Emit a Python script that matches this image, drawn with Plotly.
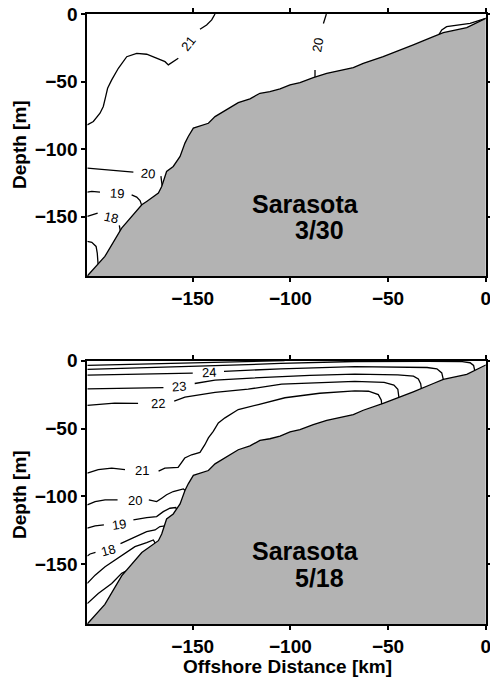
import plotly.graph_objects as go

# ---------------- shared section geometry ----------------
X_RANGE = [-204, 0]
Z_RANGE = [-194, 0]
TICKS = [-150, -100, -50, 0]
Y_TICKS = [-150, -100, -50, 0]

# bottom profile along the transect (km offshore, depth m)
bathy_x = [-204, -195, -186.4, -176.1, -173.6, -170.2, -167.6, -165.9, -163.4, -160,
           -156.5, -154, -152.3, -149.7, -146.3, -142, -138.6, -135.2, -130.9, -126.7,
           -120.7, -115.6, -110.5, -105.3, -100.2, -95.1, -88.3, -81.4, -67.8, -62.7,
           -52.5, -47.3, -37.1, -26.8, -21.7, -9.7, 0]
bathy_z = [-194, -179.5, -158.5, -141.3, -138.8, -135.1, -132.6, -127.7, -116.6, -112.9,
           -105.5, -95.6, -90.7, -84.5, -82.8, -80.9, -76, -73, -69.8, -65.6,
           -62.8, -58.7, -57.5, -55.5, -52.5, -50.8, -47.1, -43.9, -39.7, -36.5,
           -31.5, -28.4, -22.9, -16.8, -13.8, -10.1, -3.2]

# ---------------- 3/30 isotherms (None = gap for label) ----------------
mar_21_x = [-204, -200.9, -197.5, -195.8, -194.6, -193.6, -191.5, -188.1, -183.8, -178.7,
            -173.6, -168.5, -164.2, -162.5, -157.4, None, -146.3, -142.9, -140.3, -138.6]
mar_21_z = [-82.1, -79.6, -73.5, -68.5, -61.2, -55, -48.8, -40.2, -31.6, -29.1,
            -29.8, -32.8, -35.3, -37.7, -32.8, None, -11.3, -8.1, -4.4, 0]
mar_21s_x = [-24.5, -22.5, -20, -14.9, -8, 0]
mar_21s_z = [-16.5, -11.8, -9.4, -8.1, -6.9, -3.2]
mar_20a_x = [-83.1, -81.6, None, -87.4, -87.4]
mar_20a_z = [-7, 0, None, -41.4, -49]
mar_20b_x = [-204, -198.4, -191.5, -184.7, -180.4, None, -166.3, -166.0, -165.5]
mar_20b_z = [-114.1, -114.9, -115.9, -116.6, -117.1, None, -120, -123.5, -129]
mar_19_x = [-204, -201.7, -197.5, None, -181.3, -178.7, -177, -176.1, -175.8]
mar_19_z = [-131.9, -131.4, -131.9, None, -133.9, -135.6, -138.1, -141.3, -143]
mar_18_x = [-204, -201.7, -198.7, None, -187.6, -187]
mar_18_z = [-149.9, -148.7, -147.4, None, -156.5, -161.5]
mar_17_x = [-204, -201.7, -199.5, -198.9, -198.4]
mar_17_z = [-168.4, -169.1, -172.1, -177, -187]

mar_lab_text = ["21", "20", "20", "19", "18"]
mar_lab_x = [-152.3, -85.7, -173.1, -188.6, -191.9]
mar_lab_z = [-21.7, -22.9, -117.9, -133.1, -150.4]
mar_lab_ang = [-52, -80, 5, 3, 12]

# ---------------- 5/18 isotherms ----------------
may_26_x = [-204, -185, -165, -145, -125, -103]
may_26_z = [-3.5, -2.8, -2.0, -1.2, -0.6, 0]
may_25_x = [-204, -180, -160, -138.6, -105, -67, -30, -12, -8, -6.2, -5.5]
may_25_z = [-6.4, -5.6, -4.7, -3.7, -2.0, -0.6, -0.5, -0.7, -1.5, -3.5, -8]
may_24_x = [-204, -185, -165, -150, None, -134, -120, -105, -67, -40, -30, -25, -22.5, -21.5]
may_24_z = [-10.6, -10.2, -9.7, -9.2, None, -7.8, -6.9, -6.0, -4.4, -4.8, -5.0, -6.0, -9.0, -15]
may_23_x = [-204, -190, -175, -165, None, -149, -138.6, -120, -110, -90, -67, -45, -37, -34.5, -33.3, -32.8]
may_23_z = [-20.7, -20.4, -20.0, -19.8, None, -16.8, -14.3, -12.8, -12.0, -10.8, -9.9, -10.4, -11.4, -13.5, -17, -22]
may_22_x = [-204, -190, -178, None, -159.5, -157.4, -154, -138.6, -121.6, -104.5, -85, -67, -52, -47, -45, -44.3]
may_22_z = [-32.9, -31.2, -31.5, None, -29.8, -28.6, -26.9, -23.4, -21.0, -17.3, -16.2, -15.3, -16.0, -18.0, -21.0, -28.5]
may_21_x = [-204, -198.4, -191.5, -184.7, None, -167.5, -164.3, -157.5, -155.7, -154.1, -150.6,
            -146.3, -143.8, -142, -139.5, -136.9, -133.5, -126.7, -116.4, -102.8, -85,
            -67, -60, -55, -53.5, -53]
may_21_z = [-82.8, -80.3, -79.1, -80.3, None, -81.4, -79.1, -78.6, -75.4, -71.7, -69.3,
            -67.6, -61.9, -56.9, -52, -45.8, -42.1, -36, -32.3, -27.3, -24,
            -22.2, -22.5, -25, -29, -34]
may_20_x = [-204, -200, -194.9, -188.5, None, -172.5, -168.5, -165.9, -163.4, -160, -157, -154.8, -153.5]
may_20_z = [-106.2, -103.8, -102.5, -102.5, None, -102.5, -103.8, -101.3, -98.8, -96.4, -95.5, -94.5, -96]
may_19_x = [-204, -200, -195.5, None, -180.4, -173.6, -168.5, -165.1, -161.7, -158.7, -157.5]
may_19_z = [-123.4, -121.7, -121, None, -117.3, -115.6, -114.9, -111.2, -108.7, -108.2, -112]
may_18_x = [-204, -202.6, -199.8, None, -187, -179.6, -173.6, -169.3, -166.8, -164.3, -163.5]
may_18_z = [-143.9, -142.4, -141.3, None, -134.8, -129.6, -125.9, -124.7, -122.2, -121.7, -126]
may_17_x = [-204, -200, -194.9, -189.8, -184.7, -179.6, -173.6, -170.2, -168.5]
may_17_z = [-164.1, -158, -151.8, -146.9, -141.9, -137, -134.1, -132.1, -136]
may_16_x = [-204, -198.4, -191.5, -186.4, -183]
may_16_z = [-178.9, -171.5, -164.1, -156.7, -154]

may_lab_text = ["24", "23", "22", "21", "20", "19", "18"]
may_lab_x = [-141.7, -157, -168, -176.1, -179.6, -187.6, -193.6]
may_lab_z = [-8.9, -19.2, -31.8, -80.8, -103.3, -121, -139.5]
may_lab_ang = [-3, -4, -3, 0, 0, -8, -15]

station = "Sarasota"
dates = ["3/30", "5/18"]

FONT = "Liberation Sans, Arial, Helvetica, sans-serif"
GRAY = "rgb(179,179,179)"

fig = go.Figure()


def add_line(xs, zs, xa, ya):
    fig.add_trace(go.Scatter(x=xs, y=zs, mode="lines", xaxis=xa, yaxis=ya,
                             line=dict(color="black", width=1.3),
                             connectgaps=False, hoverinfo="skip", showlegend=False))


def add_bathy(xa, ya):
    px = bathy_x + [X_RANGE[1] + 2, X_RANGE[1] + 2, bathy_x[0]]
    pz = bathy_z + [bathy_z[-1], Z_RANGE[0] - 2, Z_RANGE[0] - 2]
    fig.add_trace(go.Scatter(x=px, y=pz, mode="lines", fill="toself", fillcolor=GRAY,
                             xaxis=xa, yaxis=ya, line=dict(color="black", width=1.3),
                             hoverinfo="skip", showlegend=False))


panels = [
    ("x", "y", [(mar_21_x, mar_21_z), (mar_21s_x, mar_21s_z), (mar_20a_x, mar_20a_z),
                (mar_20b_x, mar_20b_z), (mar_19_x, mar_19_z), (mar_18_x, mar_18_z),
                (mar_17_x, mar_17_z)],
     (mar_lab_text, mar_lab_x, mar_lab_z, mar_lab_ang), dates[0]),
    ("x2", "y2", [(may_26_x, may_26_z), (may_25_x, may_25_z), (may_24_x, may_24_z),
                  (may_23_x, may_23_z), (may_22_x, may_22_z), (may_21_x, may_21_z),
                  (may_20_x, may_20_z), (may_19_x, may_19_z), (may_18_x, may_18_z),
                  (may_17_x, may_17_z), (may_16_x, may_16_z)],
     (may_lab_text, may_lab_x, may_lab_z, may_lab_ang), dates[1]),
]

for xa, ya, lines, labs, date in panels:
    for xs, zs in lines:
        add_line(xs, zs, xa, ya)
    add_bathy(xa, ya)
    for t, lx, lz, ang in zip(*labs):
        fig.add_annotation(x=lx, y=lz, xref=xa, yref=ya, text=t, showarrow=False,
                           textangle=ang, font=dict(family=FONT, size=13, color="black"))
    fig.add_annotation(x=-92.5, y=-140.5, xref=xa, yref=ya, text=station, showarrow=False,
                       xanchor="center", yanchor="middle",
                       font=dict(family=FONT, size=25, color="black", weight="bold"))
    fig.add_annotation(x=-84.9, y=-160.3, xref=xa, yref=ya, text=date, showarrow=False,
                       xanchor="center", yanchor="middle",
                       font=dict(family=FONT, size=25, color="black", weight="bold"))

axis_common = dict(showgrid=False, zeroline=False, showline=True, linecolor="black",
                   linewidth=2, mirror="ticks", ticks="outside", ticklen=4, tickwidth=1.5,
                   tickcolor="black", automargin=False, ticklabeloverflow="allow",
                   tickfont=dict(family=FONT, size=19, color="black", weight="bold"))

XD = [87.3 / 490, 485.7 / 490]
fig.update_layout(
    width=490, height=683, margin=dict(l=0, r=0, t=0, b=0, autoexpand=False),
    paper_bgcolor="white", plot_bgcolor="white",
    xaxis=dict(domain=XD, range=X_RANGE, tickvals=TICKS, anchor="y", **axis_common),
    yaxis=dict(domain=[407 / 683, 669 / 683], range=Z_RANGE, tickvals=Y_TICKS,
               anchor="x", **axis_common),
    xaxis2=dict(domain=XD, range=X_RANGE, tickvals=TICKS, anchor="y2", **axis_common),
    yaxis2=dict(domain=[59 / 683, 322.3 / 683], range=Z_RANGE, tickvals=Y_TICKS,
                anchor="x2", **axis_common),
)

title_font = dict(family=FONT, size=19, color="black", weight="bold")
fig.add_annotation(x=19 / 490, y=(683 - 145) / 683, xref="paper", yref="paper",
                   xanchor="center", yanchor="middle",
                   text="Depth [m]", textangle=-90, showarrow=False, font=title_font)
fig.add_annotation(x=19 / 490, y=(683 - 495) / 683, xref="paper", yref="paper",
                   xanchor="center", yanchor="middle",
                   text="Depth [m]", textangle=-90, showarrow=False, font=title_font)
fig.add_annotation(x=287 / 490, y=(683 - 666) / 683, xref="paper", yref="paper",
                   xanchor="center", yanchor="middle",
                   text="Offshore Distance [km]", showarrow=False, font=title_font)

fig.write_html("out.html")
